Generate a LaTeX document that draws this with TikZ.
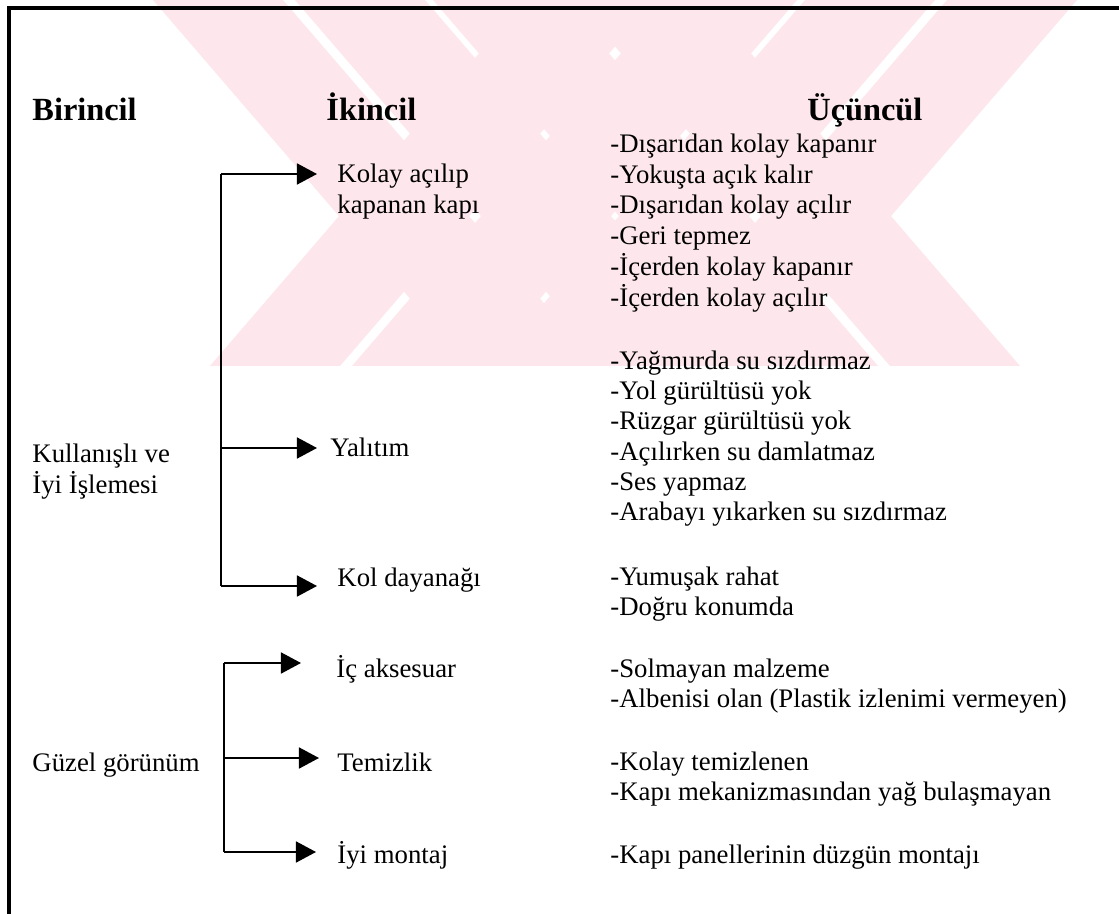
\documentclass[tikz,border=0pt]{standalone}
\usepackage{fontspec}
\setmainfont{Liberation Serif}
\usetikzlibrary{arrows.meta}
\definecolor{wmpink}{RGB}{253,231,236}
\begin{document}
\begin{tikzpicture}[x=0.4484pt,y=-0.4484pt,
  txt/.style={anchor=base west, inner sep=0pt, font=\fontsize{12pt}{13.63pt}\selectfont},
  head/.style={anchor=base west, inner sep=0pt, font=\fontsize{14.5pt}{16pt}\selectfont\bfseries},
  link/.style={line width=0.9pt},
  arr/.style={line width=0.9pt, -{Triangle[length=9pt,width=9.4pt]}},
  frame/.style={line width=1.35pt},
  ribbon/.style={fill=wmpink, draw=none}]
\useasboundingbox (0,0) rectangle (1119,914);
\fill[white] (0,0) rectangle (1119,914);

% pale ribbon emblem behind the header area
\begin{scope}
  \clip (0,0) rectangle (1119,366);
  \foreach \a in {153,295,433,575}
    \fill[ribbon] (\a,0) -- ({\a+130},0) -- ({\a+445},366) -- ({\a+315},366) -- cycle;
  \foreach \b in {525,667,805,947}
    \fill[ribbon] (\b,0) -- ({\b+130},0) -- ({\b-185},366) -- ({\b-315},366) -- cycle;
\end{scope}

% page frame
\draw[frame] (9,914) -- (9,8) -- (1119,8);

% column headings
\node[head] (h1) at (32,121) {Birincil};
\node[head] (h2) at (326,121) {İkincil};
\node[head] (h3) at (807,121) {Üçüncül};

% primary items
\node[txt] (p1) at (32,462) {\begin{tabular}[t]{@{}l@{}}Kullanışlı ve\\İyi İşlemesi\end{tabular}};
\node[txt] (p2) at (32,771) {Güzel görünüm};

% secondary items
\node[txt] (s1) at (337,183) {\begin{tabular}[t]{@{}l@{}}Kolay açılıp\\kapanan kapı\end{tabular}};
\node[txt] (s2) at (330,456) {Yalıtım};
\node[txt] (s3) at (337,586) {Kol dayanağı};
\node[txt] (s4) at (336,677) {İç aksesuar};
\node[txt] (s5) at (337,771) {Temizlik};
\node[txt] (s6) at (337,863) {İyi montaj};

% tertiary items
\node[txt] (t1) at (610,153) {\begin{tabular}[t]{@{}l@{}}-Dışarıdan kolay kapanır\\-Yokuşta açık kalır\\-Dışarıdan kolay açılır\\-Geri tepmez\\-İçerden kolay kapanır\\-İçerden kolay açılır\end{tabular}};
\node[txt] (t2) at (610,369) {\begin{tabular}[t]{@{}l@{}}-Yağmurda su sızdırmaz\\-Yol gürültüsü yok\\-Rüzgar gürültüsü yok\\-Açılırken su damlatmaz\\-Ses yapmaz\\-Arabayı yıkarken su sızdırmaz\end{tabular}};
\node[txt] (t3) at (610,585) {\begin{tabular}[t]{@{}l@{}}-Yumuşak rahat\\-Doğru konumda\end{tabular}};
\node[txt] (t4) at (610,677) {\begin{tabular}[t]{@{}l@{}}-Solmayan malzeme\\-Albenisi olan (Plastik izlenimi vermeyen)\end{tabular}};
\node[txt] (t5) at (610,770) {\begin{tabular}[t]{@{}l@{}}-Kolay temizlenen\\-Kapı mekanizmasından yağ bulaşmayan\end{tabular}};
\node[txt] (t6) at (610,863) {-Kapı panellerinin düzgün montajı};

% first bracket
\coordinate (j1) at (221,174);
\coordinate (j2) at (221,448);
\coordinate (j3) at (221,586);
\coordinate (a1) at (317,174);
\coordinate (a2) at (317,448);
\coordinate (a3) at (317,586);
\draw[link] (j1) -- (j3);
\draw[arr] (j1) -- (a1);
\draw[arr] (j2) -- (a2);
\draw[arr] (j3) -- (a3);

% second bracket
\coordinate (k1) at (224,663);
\coordinate (k2) at (224,758);
\coordinate (k3) at (224,852);
\coordinate (b1) at (301,663);
\coordinate (b2) at (319,758);
\coordinate (b3) at (316,852);
\draw[link] (k1) -- (k3);
\draw[arr] (k1) -- (b1);
\draw[arr] (k2) -- (b2);
\draw[arr] (k3) -- (b3);
\end{tikzpicture}
\end{document}
